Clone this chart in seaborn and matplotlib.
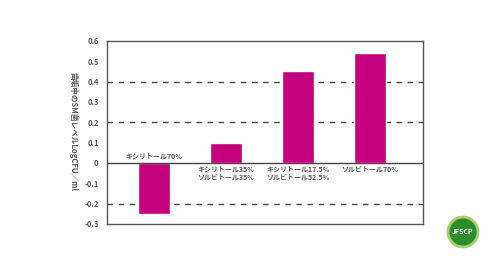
import matplotlib
matplotlib.use("Agg")
import matplotlib.pyplot as plt
import seaborn as sns
import pandas as pd
from matplotlib.patches import Circle

categories = ["キシリトール70%", "キシリトール35%\nソルビトール35%",
              "キシリトール17.5%\nソルビトール52.5%", "ソルビトール70%"]
values = [-0.25, 0.10, 0.45, 0.54]
yticks = [0.6, 0.5, 0.4, 0.3, 0.2, 0.1, 0, -0.1, -0.2, -0.3]
ytick_labels = ["0.6", "0.5", "0.4", "0.3", "0.2", "0.1", "0", "-0.1", "-0.2", "-0.3"]
dashed_levels = [0.4, 0.2, -0.2]
ylabel = "歯垢中のSM菌レベルLogCFU／ml"

sns.set_theme(style="white")
plt.rcParams['font.family'] = ['Noto Sans CJK JP', 'DejaVu Sans']

df = pd.DataFrame({"cat": categories, "val": values})

fig = plt.figure(figsize=(5, 2.64), dpi=100)
ax = fig.add_axes([0.214, 0.152, 0.632, 0.693])

for lv in dashed_levels:
    ax.axhline(lv, color="#444444", lw=1.0, ls=(0, (4, 4)), zorder=0)
ax.axhline(0, color="#444444", lw=1.0, zorder=3)

sns.barplot(data=df, x="cat", y="val", color="#C4007E", width=0.44,
            saturation=1, ax=ax, zorder=2)

ax.set_xlim(-0.65, 3.74)
ax.set_ylim(-0.3, 0.6)
ax.set_yticks(yticks)
ax.set_yticklabels(ytick_labels, fontsize=5.5, color="#555555", fontweight="bold")
ax.tick_params(axis="y", length=0, pad=6)
ax.set_xticks([])
ax.set_xlabel("")
ax.set_ylabel("")

for i, (c, v) in enumerate(zip(categories, values)):
    if v < 0:
        ax.text(i, 0.015, c, ha="center", va="bottom", fontsize=5, color="#555555",
                fontweight="bold", linespacing=1.1)
    else:
        ax.text(i, -0.015, c, ha="center", va="top", fontsize=5, color="#555555",
                fontweight="bold", linespacing=1.1)

for s in ax.spines.values():
    s.set_color("#555555")
    s.set_linewidth(1.0)

fig.text(0.146, 0.5, ylabel, rotation=270, ha="center", va="center",
         fontsize=5.5, color="#555555", fontweight="bold")

# logo
lx, ly = 463 / 500, 1 - 232 / 264
circ = Circle((463, 264 - 232), 15, transform=None, facecolor="#2E8B2E",
              edgecolor="#A5D06A", lw=2)
fig.patches.append(circ)
fig.text(lx, ly, "JFSCP", ha="center", va="center", fontsize=5, color="white",
         fontweight="bold")

fig.savefig("out.png", dpi=100)
